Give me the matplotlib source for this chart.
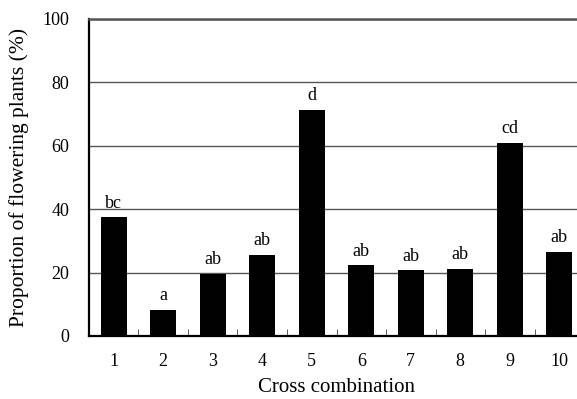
import matplotlib
matplotlib.use("Agg")
import matplotlib.pyplot as plt
import numpy as np

plt.rcParams['font.family'] = ['Liberation Serif', 'DejaVu Serif']

combos = ['1', '2', '3', '4', '5', '6', '7', '8', '9', '10']
flowering = [37.4, 8.2, 19.6, 25.6, 71.4, 22.3, 20.7, 21.2, 61.0, 26.6]
letters = ['bc', 'a', 'ab', 'ab', 'd', 'ab', 'ab', 'ab', 'cd', 'ab']

fig = plt.figure(figsize=(5.77, 3.99), dpi=100)
# the original is cropped on the right, so the axes run slightly past the figure edge
ax = fig.add_axes([0.1542, 0.158, 0.858, 0.7945])

x = np.arange(len(combos))
ax.bar(x, flowering, width=0.53, color='black', zorder=3)

for xi, v, lab in zip(x, flowering, letters):
    ax.annotate(lab, (xi, v), xytext=(0, 4), textcoords='offset points',
                ha='center', va='bottom', fontsize=13)

ax.set_xlim(-0.5, len(combos) - 0.5)
ax.set_ylim(0, 100)
ax.set_yticks(range(0, 101, 20))
ax.yaxis.grid(True, color='#555555', linewidth=1.0, zorder=0)
ax.set_axisbelow(True)

ax.set_xticks(x)
ax.set_xticklabels(combos)
ax.set_xticks(np.arange(0.5, len(combos) - 0.5, 1), minor=True)
ax.tick_params(axis='x', which='major', length=0, labelsize=13, pad=12)
ax.tick_params(axis='x', which='minor', direction='in', length=5, color='#444444')
ax.tick_params(axis='y', length=0, labelsize=13, pad=14)

ax.spines['top'].set_color('#555555')
ax.spines['top'].set_linewidth(1.8)
ax.spines['right'].set_visible(False)
ax.spines['left'].set_linewidth(1.6)
ax.spines['bottom'].set_linewidth(1.6)

ax.set_ylabel('Proportion of flowering plants (%)', fontsize=15.5, labelpad=10)
ax.set_xlabel('Cross combination', fontsize=15, labelpad=6)

fig.savefig('out.png', dpi=100)
